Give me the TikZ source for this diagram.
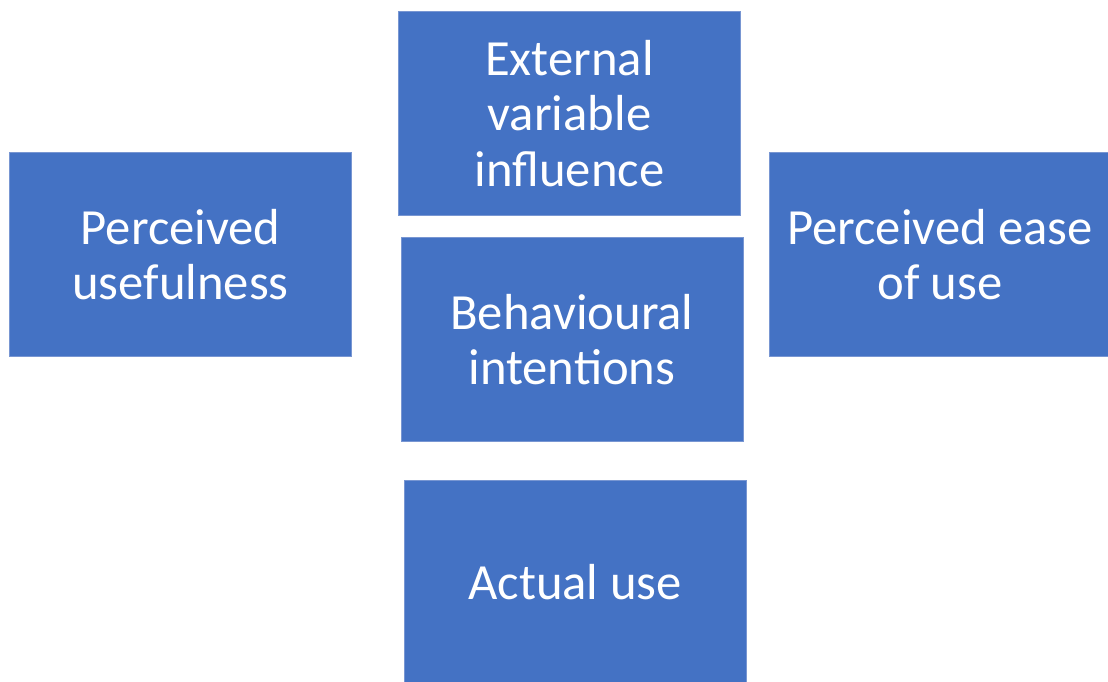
\documentclass[tikz,border=0pt]{standalone}
\usepackage{fontspec}
\setmainfont{Carlito}
\definecolor{boxblue}{RGB}{68,114,196}
\definecolor{boxedge}{RGB}{120,150,210}
\begin{document}
\begin{tikzpicture}[x=0.75pt,y=0.75pt,yscale=-1,xscale=1,
  tamBox/.style={draw=boxedge, line width=0.6pt, fill=boxblue, text=white, align=center,
    minimum width=256.5pt, minimum height=153pt, inner sep=0pt,
    font=\fontsize{38}{41.5}\selectfont}]
\useasboundingbox (0,0) rectangle (1108,682);

% Text Node
\node [tamBox] (external) at (569.5,113.5) {External\\variable\\influence};
% Text Node
\node [tamBox] (usefulness) at (180.5,254.5) {Perceived\\usefulness};
% Text Node
\node [tamBox] (ease) at (940,254.5) {Perceived ease\\of use};
% Text Node
\node [tamBox] (intentions) at (572,339.5) {Behavioural\\intentions};
% Text Node
\node [tamBox] (actual) at (575,582.5) {Actual use};

\end{tikzpicture}
\end{document}
